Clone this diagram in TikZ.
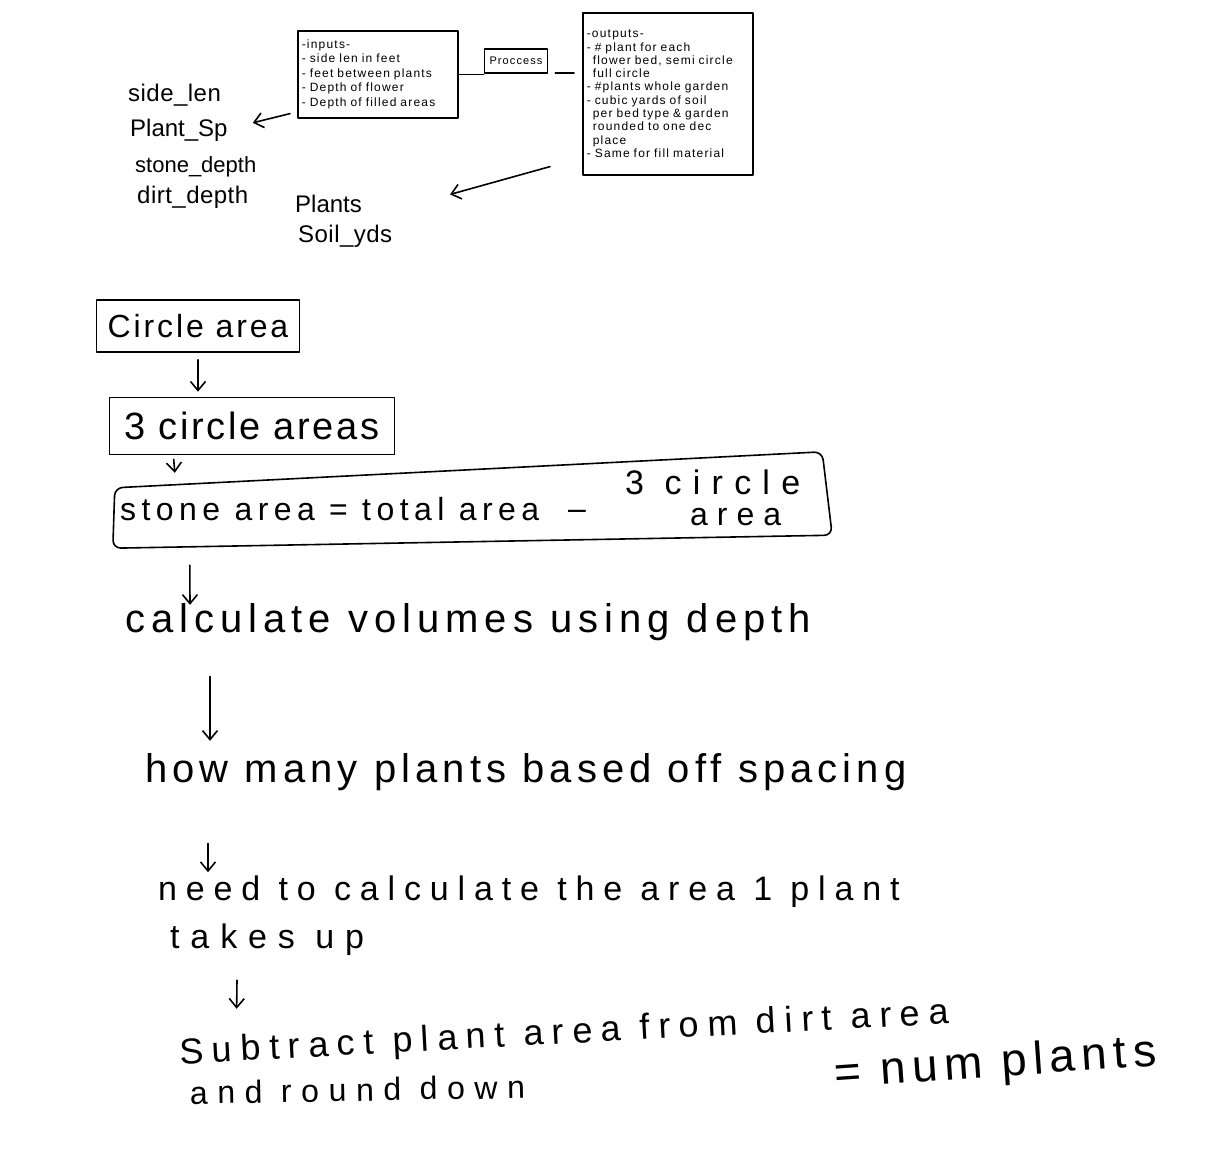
\documentclass[tikz,border=0pt]{standalone}
\usepackage{fontspec}
\setmainfont{Liberation Sans}
\newfontfamily\hand{Liberation Sans}
\newfontfamily\boxhand[LetterSpace=10,WordSpace=3]{Liberation Sans}
\usetikzlibrary{arrows.meta,calc}

% size and letter spacing of the hand-lettered text
\newcommand{\handsz}[2]{\hand\fontsize{#1}{#1}\selectfont\addfontfeature{LetterSpace=#2}}
% small lettering inside the top boxes
\newcommand{\boxsz}[2]{\boxhand\fontsize{#1}{#2}\selectfont}

\begin{document}
\begin{tikzpicture}[x=1pt,y=-1pt,
  ink/.style={line width=1.6pt, line cap=round, line join=round},
  arr/.style={ink, -{Straight Barb[length=9pt,width=15pt]}},
  box/.style={draw, ink, rectangle, inner sep=0pt},
  txt/.style={inner sep=0pt, anchor=base west},
]
\fill[white] (0,0) rectangle (1211,1176);
\useasboundingbox (0,0) rectangle (1211,1176);

% ---- top: inputs / process / outputs ----
\node[box, anchor=north west, minimum width=160, minimum height=87, inner xsep=4pt,
      text width=152, align=left, font=\boxsz{12}{14.5}] (inputs) at (297,30)
  {-inputs-\\- side len in feet\\- feet between plants\\- Depth of flower\\- Depth of filled areas};
\node[box, minimum width=63, minimum height=24, font=\handsz{11}{10}] (proc) at (516,61) {Proccess};
\node[box, anchor=north west, minimum width=170, minimum height=162, inner xsep=4pt,
      text width=162, align=left, font=\boxsz{12}{13.3}] (outputs) at (582,12)
  {-outputs-\\- \# plant for each\\\hspace*{6pt}flower bed, semi circle\\\hspace*{6pt}full circle\\- \#plants whole garden\\- cubic yards of soil\\\hspace*{6pt}per bed type \& garden\\\hspace*{6pt}rounded to one dec\\\hspace*{6pt}place\\- Same for fill material};

\draw[ink] (inputs.east) -- (inputs.east -| proc.west);
\draw[ink] ($(proc.south east)+(7,-1)$) -- ($(proc.south east -| outputs.west)+(-8,-1)$);

% ---- variable names ----
\node[txt, font=\handsz{24}{2}] (v1) at (128,101) {side\_len};
\node[txt, font=\handsz{24}{0}] (v2) at (130,136) {Plant\_Sp};
\node[txt, font=\handsz{22}{0}] (v3) at (135,172) {stone\_depth};
\node[txt, font=\handsz{24}{2}] (v4) at (137,203) {dirt\_depth};
\node[txt, font=\handsz{24}{0}] (plants) at (295,212) {Plants};
\node[txt, font=\handsz{24}{2}] (soil) at (298,242) {Soil\_yds};

\draw[arr] ($(inputs.south west)+(-7,-5)$) -- ($(v2.east)+(25,-7)$);
\draw[arr] ($(outputs.south west)+(-32,-9)$) -- ($(plants.east)+(88,-9)$);

% ---- process flow ----
\node[box, minimum width=203, minimum height=52, font=\handsz{32}{9}] (circ) at (198,326) {Circle area};
\node[box, minimum width=285, minimum height=57, font=\handsz{38}{7}] (three) at (252,426) {3 circle areas};

% stone area step: a skewed hand-drawn frame round three pieces of text
\node[minimum width=720, minimum height=92, inner sep=0pt] (stone) at (472,503) {};
\node[txt, font=\handsz{32}{17}] (stone1) at (120,520) {stone area = total area};
\node[txt, font=\handsz{32}{0}] (stone2) at (568,519) {–};
\node[txt, font=\handsz{34}{33}] (stone3) at (625,494) {3 circle};
\node[txt, font=\handsz{32}{28}] (stone4) at (690,525) {area};
\draw[ink, rounded corners=8pt]
  ($(stone.south west)+(1,-1)$) -- ($(stone.north west)+(3,31)$) --
  ($(stone.north east)+(-10,-5)$) -- ($(stone.south east)+(0,-14)$) -- cycle;

\node[txt, font=\handsz{40}{15}] (calc) at (125,632) {calculate volumes using depth};
\node[txt, font=\handsz{40}{12.7}] (many) at (145,782) {how many plants based off spacing};
\node[txt, font=\handsz{34}{26}] (need1) at (158,900) {need to calculate the area 1 plant};
\node[txt, font=\handsz{34}{32}] (need2) at (170,948) {takes up};
\node[txt, font=\handsz{36}{24}, rotate=3] (sub1) at (180,1064) {Subtract plant area from dirt area};
\node[txt, font=\handsz{32}{30}, rotate=1] (sub2) at (190,1104) {and round down};
\node[txt, font=\handsz{46}{14}, rotate=4] (num) at (835,1088) {= num plants};

\draw[arr] ($(circ.south)+(0,7)$) -- ($(circ.south |- three.north)+(0,-5)$);
\draw[arr] ($(three.south west)+(65,4)$) -- ($(stone.north west)+(63,16)$);
\draw[arr] ($(stone.south west)+(78,16)$) -- ($(calc.north west)+(65,2)$);
\draw[arr] ($(calc.south west)+(85,36)$) -- ($(many.north west)+(65,-12)$);
\draw[arr] ($(many.south west)+(63,53)$) -- ($(need1.north west)+(50,-3)$);
\draw[arr] ($(need2.south west)+(67,25)$) -- ($(sub1.north west)+(58,-29)$);
\end{tikzpicture}
\end{document}
